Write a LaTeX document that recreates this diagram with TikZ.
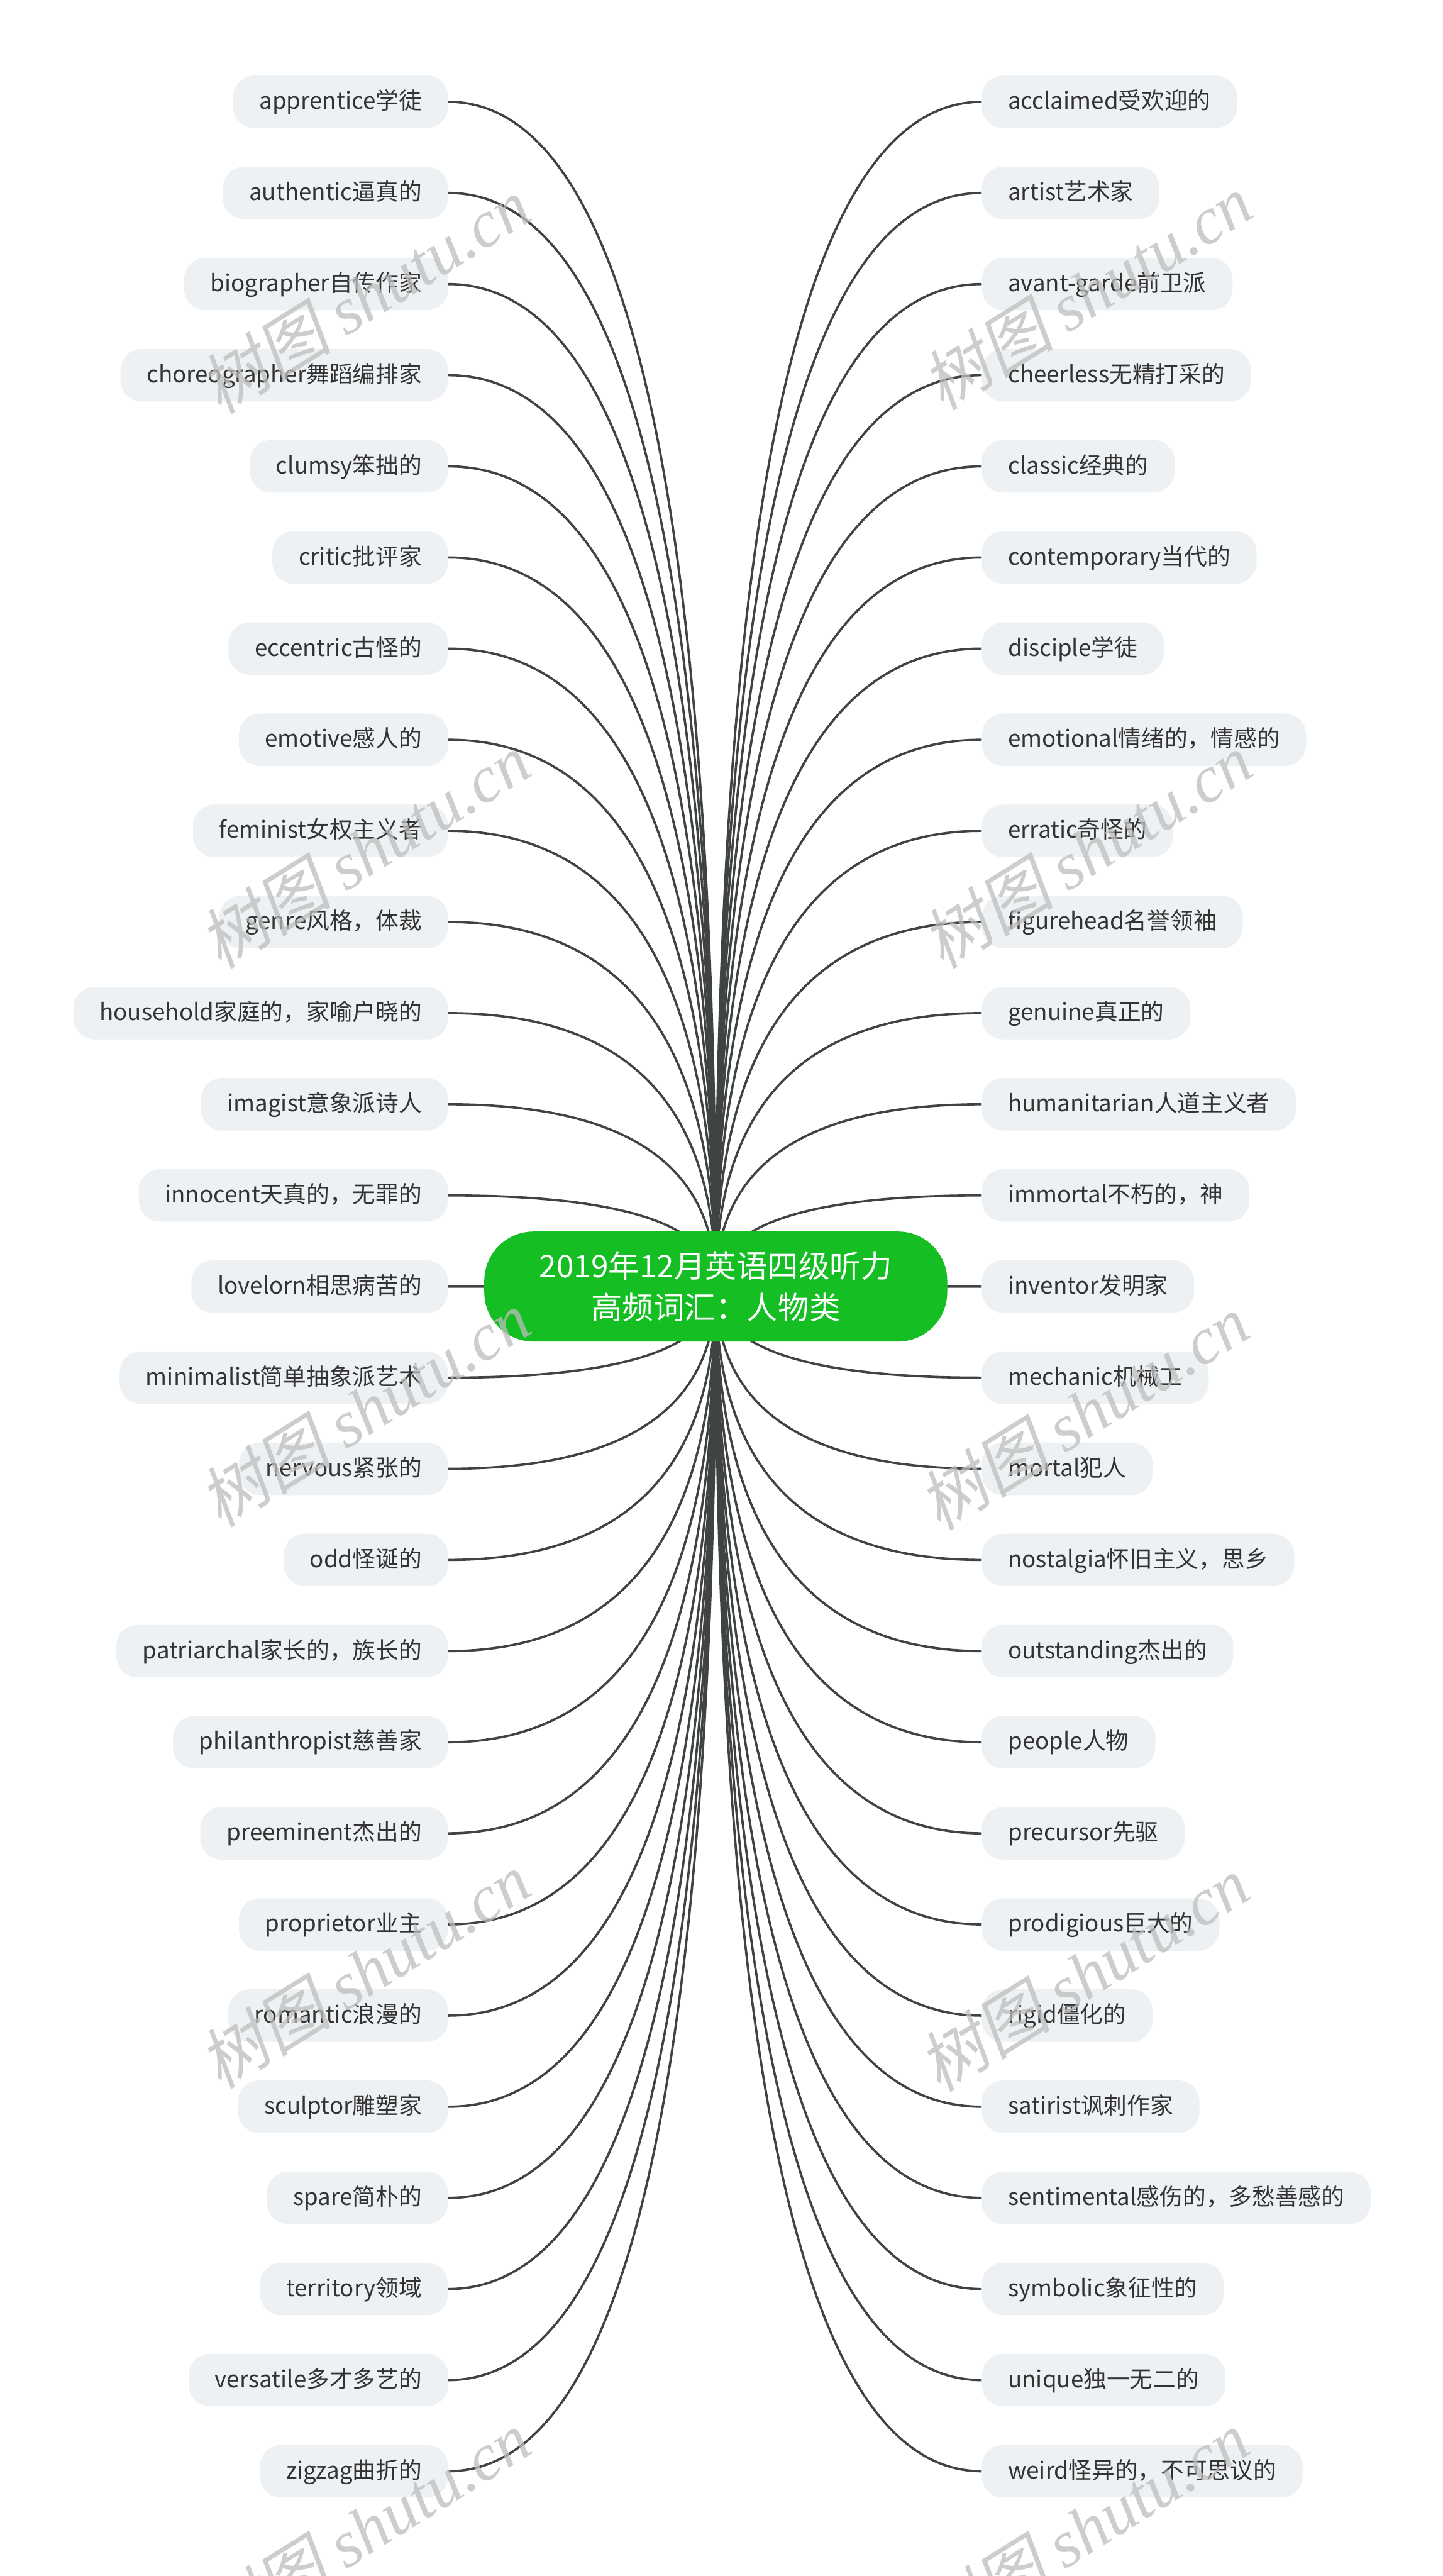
\documentclass[tikz,border=0pt]{standalone}
\usepackage{fontspec}
\setmainfont{Noto Sans CJK SC}
\newfontfamily\wmcjk[FakeSlant=0.2]{Noto Sans CJK SC}
\newfontfamily\wmlat{Liberation Serif}
\usetikzlibrary{calc}
\pgfdeclarelayer{bg}
\pgfsetlayers{bg,main}
\definecolor{rootgreen}{HTML}{14BE23}
\definecolor{leaffill}{HTML}{EEF1F4}
\definecolor{leaftext}{HTML}{333333}
\definecolor{edgecol}{HTML}{404440}
\definecolor{wmcol}{HTML}{BDBDBD}
\tikzset{
  leaf/.style={fill=leaffill, rounded corners=13mm, minimum height=32mm,
    inner xsep=16mm, inner ysep=0pt, text=leaftext,
    font=\fontsize{40pt}{48pt}\selectfont, text height=11.5mm, text depth=2.5mm},
  lleaf/.style={leaf, anchor=east},
  rleaf/.style={leaf, anchor=west},
  rootbox/.style={fill=rootgreen, text=white, rounded corners=30mm,
    minimum width=282mm, minimum height=67mm, align=center,
    font=\fontsize{54pt}{72pt}\selectfont, inner sep=0pt},
  edge/.style={draw=edgecol, line width=1.4mm},
  wm/.style={text=wmcol, rotate=32, opacity=0.75, inner sep=0pt,
    font=\fontsize{115pt}{120pt}\selectfont}
}
\begin{document}
\begin{tikzpicture}[x=1mm,y=-1mm]
\useasboundingbox (0,0) rectangle (879,1568.8);
\begin{pgfonlayer}{bg}
\fill[white] (0,0) rectangle (879,1568.8);
\end{pgfonlayer}
\node[rootbox] (root) at (436,783.5) {2019年12月英语四级听力\\高频词汇：人物类};
\foreach \t [count=\i from 0] in {apprentice学徒, authentic逼真的, biographer自传作家,
  choreographer舞蹈编排家, clumsy笨拙的, critic批评家, eccentric古怪的, emotive感人的,
  feminist女权主义者, genre风格，体裁, household家庭的，家喻户晓的, imagist意象派诗人,
  innocent天真的，无罪的, lovelorn相思病苦的, minimalist简单抽象派艺术, nervous紧张的,
  odd怪诞的, patriarchal家长的，族长的, philanthropist慈善家, preeminent杰出的,
  proprietor业主, romantic浪漫的, sculptor雕塑家, spare简朴的, territory领域,
  versatile多才多艺的, zigzag曲折的}{
  \node[lleaf] (L\i) at (273,{62+55.5*\i}) {\t};
}
\foreach \t [count=\i from 0] in {acclaimed受欢迎的, artist艺术家, avant-garde前卫派,
  cheerless无精打采的, classic经典的, contemporary当代的, disciple学徒,
  emotional情绪的，情感的, erratic奇怪的, figurehead名誉领袖, genuine真正的,
  humanitarian人道主义者, immortal不朽的，神, inventor发明家, mechanic机械工,
  mortal犯人, nostalgia怀旧主义，思乡, outstanding杰出的, people人物, precursor先驱,
  prodigious巨大的, rigid僵化的, satirist讽刺作家, sentimental感伤的，多愁善感的,
  symbolic象征性的, unique独一无二的, weird怪异的，不可思议的}{
  \node[rleaf] (R\i) at (598,{62+55.5*\i}) {\t};
}
\begin{pgfonlayer}{bg}
\foreach \i in {0,...,26}{
  \coordinate (cL\i) at (root.center |- L\i.east);
  \draw[edge] (root.center) .. controls ($(root.center)!0.6667!(cL\i)$)
    and ($(L\i.east)!0.6667!(cL\i)$) .. (L\i.east);
  \coordinate (cR\i) at (root.center |- R\i.west);
  \draw[edge] (root.center) .. controls ($(root.center)!0.6667!(cR\i)$)
    and ($(R\i.west)!0.6667!(cR\i)$) .. (R\i.west);
}
\end{pgfonlayer}
\foreach \x/\y [count=\k] in {222/180, 662/178, 222/518, 662/518, 222/858, 660/860,
  222/1200, 660/1202, 222/1540, 660/1540}{
  \node[wm] (wm\k) at (\x,\y) {\wmcjk 树图 \wmlat\itshape shutu.cn};
}
\end{tikzpicture}
\end{document}
